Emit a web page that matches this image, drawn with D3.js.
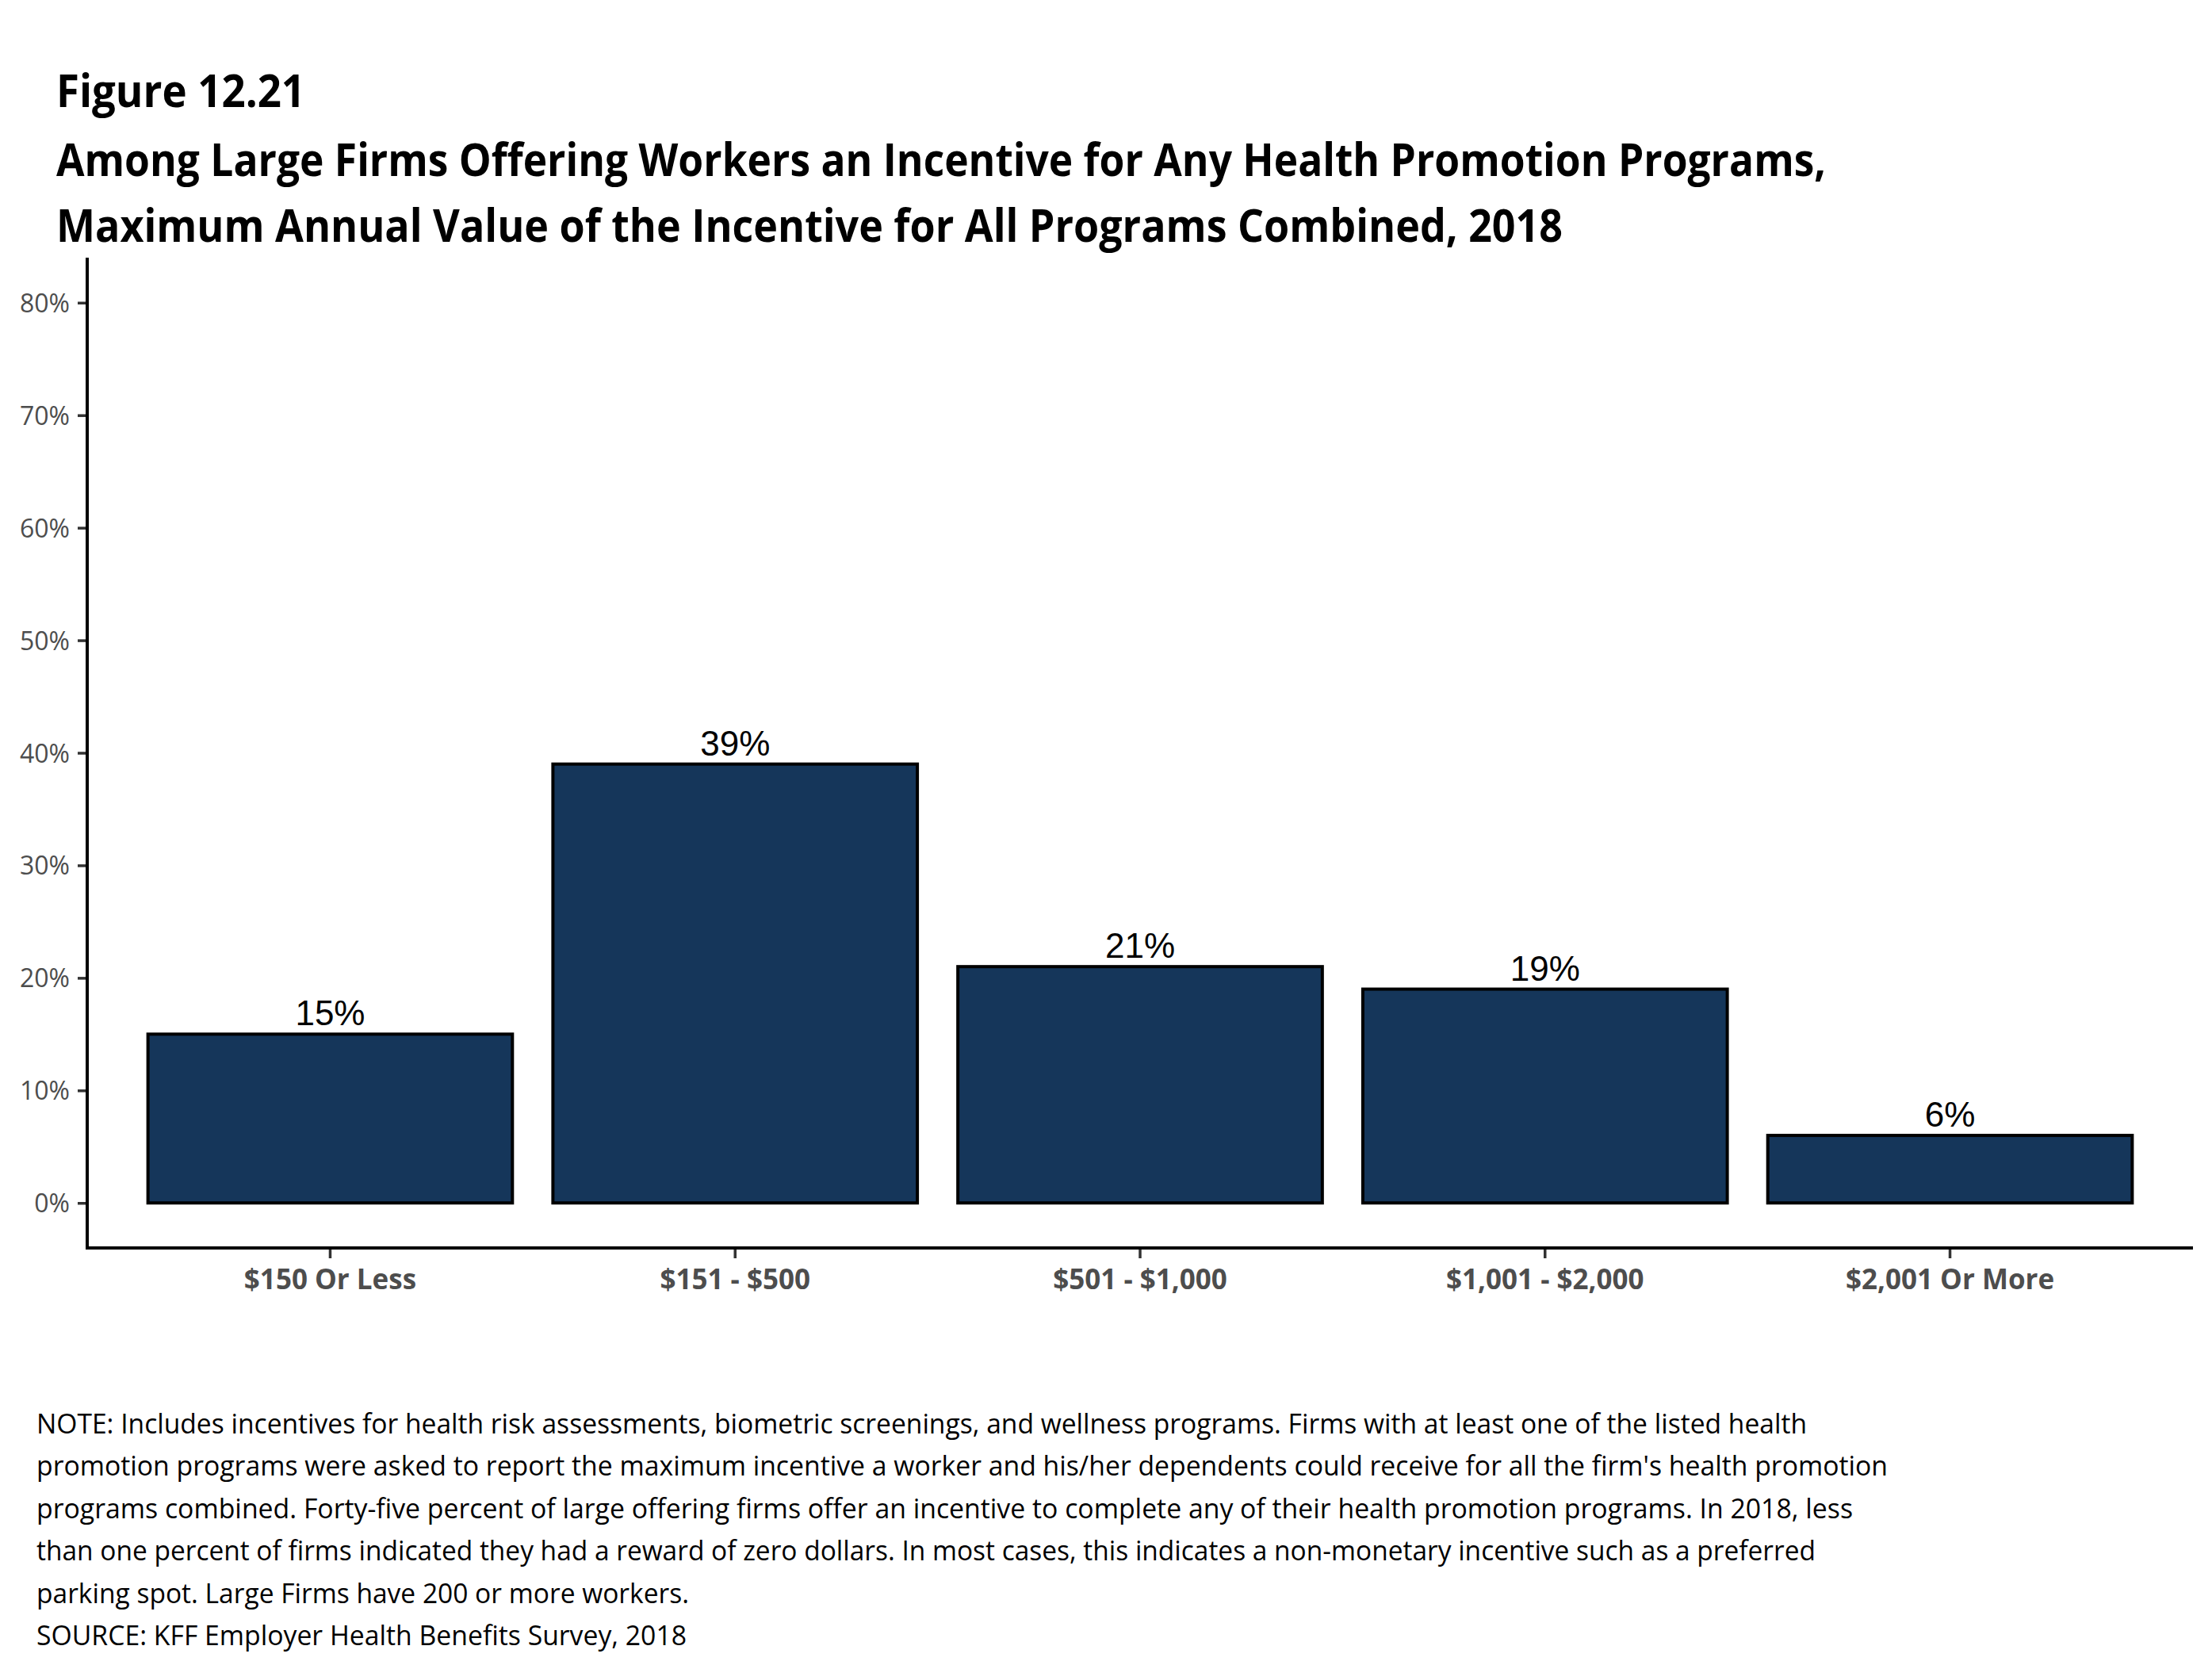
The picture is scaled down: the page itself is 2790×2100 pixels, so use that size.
<!DOCTYPE html>
<html>
<head>
<meta charset="utf-8">
<script src="https://cdn.jsdelivr.net/npm/d3@7"></script>
<style>
  html, body { margin: 0; padding: 0; background: #ffffff; }
  svg { display: block; }
</style>
</head>
<body>
<script>
// ---------- data ----------
const categories = ["$150 Or Less", "$151 - $500", "$501 - $1,000", "$1,001 - $2,000", "$2,001 Or More"];
const values = [15, 39, 21, 19, 6];
const yTicks = [0, 10, 20, 30, 40, 50, 60, 70, 80];
const titleLines = [
  "Figure 12.21",
  "Among Large Firms Offering Workers an Incentive for Any Health Promotion Programs,",
  "Maximum Annual Value of the Incentive for All Programs Combined, 2018"
];
const noteLines = [
  "NOTE: Includes incentives for health risk assessments, biometric screenings, and wellness programs. Firms with at least one of the listed health",
  "promotion programs were asked to report the maximum incentive a worker and his/her dependents could receive for all the firm's health promotion",
  "programs combined. Forty-five percent of large offering firms offer an incentive to complete any of their health promotion programs. In 2018, less",
  "than one percent of firms indicated they had a reward of zero dollars. In most cases, this indicates a non-monetary incentive such as a preferred",
  "parking spot. Large Firms have 200 or more workers.",
  "SOURCE: KFF Employer Health Benefits Survey, 2018"
];

// ---------- layout ----------
const W = 2790, H = 2100;
const titleY = [135, 222, 305];
const titleW = [314, 2232, 1900];
const noteY0 = 1808, noteDy = 53.4;
const noteW = [2233, 2335, 2291, 2244, 823, 820];
const plot = { left: 110, right: 2766, top: 325, bottom: 1574 };
const barFill = "#15365a";

const svg = d3.select("body").append("svg")
  .attr("width", W).attr("height", H)
  .attr("viewBox", `0 0 ${W} ${H}`);

svg.append("rect").attr("width", W).attr("height", H).attr("fill", "#ffffff");

// scales
const x = d3.scaleBand().domain(categories)
  .range([plot.left, plot.right])
  .paddingInner(0.1).paddingOuter(0.15);
const y = d3.scaleLinear().domain([-4, 84]).range([plot.bottom, plot.top]);

// title
svg.append("g").selectAll("text").data(titleLines).join("text")
  .attr("x", 71)
  .attr("y", (d, i) => titleY[i])
  .attr("font-family", "'Open Sans', sans-serif")
  .attr("font-weight", 700)
  .attr("font-size", 57)
  .attr("fill", "#000")
  .attr("textLength", (d, i) => titleW[i])
  .attr("lengthAdjust", "spacingAndGlyphs")
  .text(d => d);

// bars
svg.append("g").selectAll("rect").data(values).join("rect")
  .attr("x", (d, i) => x(categories[i]))
  .attr("width", x.bandwidth())
  .attr("y", d => y(d))
  .attr("height", d => y(0) - y(d))
  .attr("fill", barFill)
  .attr("stroke", "#000")
  .attr("stroke-width", 4);

// bar labels
svg.append("g").selectAll("text").data(values).join("text")
  .attr("x", (d, i) => x(categories[i]) + x.bandwidth() / 2)
  .attr("y", d => y(d) - 11)
  .attr("text-anchor", "middle")
  .attr("font-family", "'Liberation Sans', Arial, sans-serif")
  .attr("font-size", 44)
  .attr("fill", "#000")
  .text(d => d + "%");

// y axis
const yAxis = d3.axisLeft(y).tickValues(yTicks).tickFormat(d => d + "%")
  .tickSize(12).tickPadding(10);
const gy = svg.append("g").attr("transform", `translate(${plot.left},0)`).call(yAxis);
gy.select(".domain").remove();
gy.selectAll(".tick line").attr("stroke", "#333333").attr("stroke-width", 3.5);
gy.selectAll(".tick text")
  .attr("font-family", "'Open Sans', sans-serif")
  .attr("font-size", 32)
  .attr("fill", "#4d4d4d")
  .attr("dy", "0.36em");

// x axis
const xAxis = d3.axisBottom(x).tickSize(13).tickPadding(14);
const gx = svg.append("g").attr("transform", `translate(0,${plot.bottom})`).call(xAxis);
gx.select(".domain").remove();
gx.selectAll(".tick line").attr("stroke", "#333333").attr("stroke-width", 3.5);
gx.selectAll(".tick text")
  .attr("font-family", "'Open Sans', sans-serif")
  .attr("font-weight", 700)
  .attr("font-size", 35)
  .attr("fill", "#4d4d4d")
  .attr("dy", "0.71em");

// axis lines
svg.append("line")
  .attr("x1", plot.left).attr("x2", plot.left)
  .attr("y1", plot.top).attr("y2", plot.bottom + 2)
  .attr("stroke", "#000").attr("stroke-width", 4);
svg.append("line")
  .attr("x1", plot.left - 2).attr("x2", plot.right)
  .attr("y1", plot.bottom).attr("y2", plot.bottom)
  .attr("stroke", "#000").attr("stroke-width", 4);

// notes
svg.append("g").selectAll("text").data(noteLines).join("text")
  .attr("x", 46)
  .attr("y", (d, i) => noteY0 + i * noteDy)
  .attr("font-family", "'Open Sans', sans-serif")
  .attr("font-size", 35)
  .attr("fill", "#000")
  .attr("textLength", (d, i) => noteW[i])
  .attr("lengthAdjust", "spacingAndGlyphs")
  .text(d => d);
</script>
</body>
</html>
